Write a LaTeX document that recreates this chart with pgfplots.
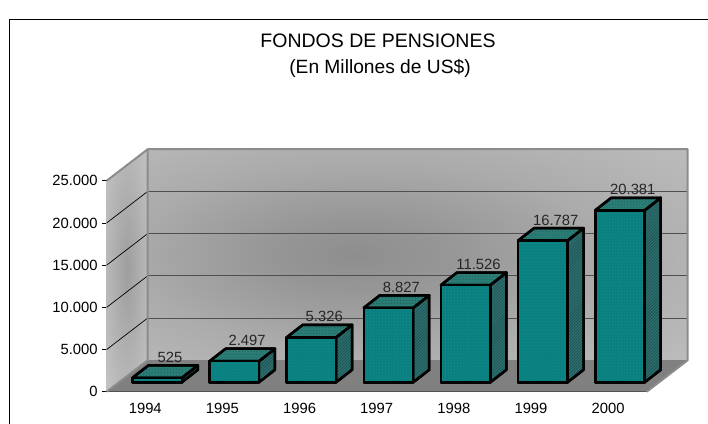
\documentclass[border=0pt]{standalone}
\usepackage{pgfplots}
\pgfplotsset{compat=1.18}
\usepackage{fontspec}
\setmainfont{Liberation Sans}
\usetikzlibrary{patterns}
\definecolor{wallL}{HTML}{C2C2C2}
\definecolor{wallD}{HTML}{8E8E8E}
\definecolor{wallM}{HTML}{ABABAB}
\definecolor{floorG}{HTML}{808080}
\definecolor{wallLine}{HTML}{8C8C8C}
\definecolor{gridG}{HTML}{4F4F4F}
\definecolor{barFront}{HTML}{0A8080}
\definecolor{barFrontP}{HTML}{1A9292}
\definecolor{barSide}{HTML}{2E6E6E}
\definecolor{barSideP}{HTML}{174C4C}
\definecolor{barTop}{HTML}{2A7C74}
\definecolor{barTopP}{HTML}{1A5F5A}
\pgfdeclareradialshading{backwall}{\pgfpoint{-6bp}{0bp}}{color(0bp)=(wallD); color(8bp)=(wallD!85!wallL); color(22bp)=(wallM); color(44bp)=(wallL); color(100bp)=(wallL)}
\pgfdeclareradialshading{sidewall}{\pgfpoint{0bp}{0bp}}{color(0bp)=(wallD!70!wallL); color(12bp)=(wallM); color(34bp)=(wallL); color(100bp)=(wallL)}
% one category: index, value
\newcommand{\threedbar}[2]{%
  \edef\tmpa{\noexpand\addplot[draw=black,line width=2.5bp,line join=round,fill=barSide,postaction={pattern=north east lines,pattern color=barSideP}] coordinates {
    (\fpeval{#1+0.973},\fpeval{1114})
    (\fpeval{#1+1.181},\fpeval{1114+1480})
    (\fpeval{#1+1.181},\fpeval{1114+1480+#2})
    (\fpeval{#1+0.973},\fpeval{1114+#2}) } --cycle;
  \noexpand\addplot[draw=black,line width=2.5bp,line join=round,fill=barTop,postaction={pattern=dots,pattern color=barTopP}] coordinates {
    (\fpeval{#1+0.333},\fpeval{1114+#2})
    (\fpeval{#1+0.973},\fpeval{1114+#2})
    (\fpeval{#1+1.181},\fpeval{1114+1480+#2})
    (\fpeval{#1+0.541},\fpeval{1114+1480+#2}) } --cycle;
  \noexpand\addplot[draw=black,line width=2.5bp,line join=round,fill=barFront,postaction={pattern=dots,pattern color=barFrontP}] coordinates {
    (\fpeval{#1+0.333},\fpeval{1114})
    (\fpeval{#1+0.973},\fpeval{1114})
    (\fpeval{#1+0.973},\fpeval{1114+#2})
    (\fpeval{#1+0.333},\fpeval{1114+#2}) } --cycle;}%
  \tmpa}
\begin{document}
\begin{tikzpicture}[x=1bp,y=1bp]
\path[use as bounding box,fill=white] (0,0) rectangle (708,-423);
\begin{scope}
\clip (0,0) rectangle (708,-423);
\draw[black,line width=1bp] (9.5,-423.5) -- (9.5,-19) -- (708.5,-19);
\end{scope}
\node[font=\fontsize{19.5bp}{23bp}\selectfont] at (378,-40.5) {FONDOS DE PENSIONES};
\node[font=\fontsize{19.2bp}{23bp}\selectfont] at (380,-68.5) {(En Millones de US\$)};
\begin{axis}[
  at={(106.7bp,-391.7bp)},anchor=south west,
  scale only axis,width=540bp,height=211bp,
  xmin=0,xmax=7,ymin=0,ymax=25000,clip=false,
  axis lines=left,axis line style={-,black,line width=0.9bp},
  xtick={0.5,1.5,2.5,3.5,4.5,5.5,6.5},
  xticklabels={1994,1995,1996,1997,1998,1999,2000},
  x tick style={draw=none},
  extra x ticks={0,1,2,3,4,5,6,7},extra x tick labels={},
  extra x tick style={tick style={draw=black,line width=0.7bp}},
  ytick={0,5000,10000,15000,20000,25000},
  y tick style={draw=black,line width=0.7bp},
  tick align=outside,major tick length=4.5bp,
  scaled y ticks=false,
  tick label style={font=\fontsize{14.8bp}{17bp}\selectfont},
  xticklabel style={yshift=-3.5bp},
  yticklabel style={xshift=-1bp},
  /pgf/number format/.cd,1000 sep={.},assume math mode=true,
]
% walls and floor
\path[shading=backwall] (axis cs:0.5315,3732) rectangle (axis cs:7.5315,28732);
\path[shading=sidewall] (axis cs:0,0) -- (axis cs:0.5315,3732) -- (axis cs:0.5315,28732) -- (axis cs:0,25000) -- cycle;
\fill[floorG] (axis cs:0,0) -- (axis cs:0.5315,3732) -- (axis cs:7.5315,3732) -- (axis cs:7,0) -- cycle;
\pgfplotsinvokeforeach{8732,13732,18732,23732}{
  \draw[gridG,line width=1bp] (axis cs:0.5315,#1) -- (axis cs:7.5315,#1);
}
\pgfplotsinvokeforeach{5000,10000,15000,20000}{
  \edef\tmp{\noexpand\draw[black,line width=0.7bp] (axis cs:0,#1) -- (axis cs:0.5315,\fpeval{#1+3732});}\tmp
}
\draw[wallLine,line width=2bp,line join=round] (axis cs:0,0) -- (axis cs:0.5315,3732) -- (axis cs:0.5315,28732) -- (axis cs:7.5315,28732) -- (axis cs:7.5315,3732) -- (axis cs:7,0);
\draw[wallLine,line width=2bp] (axis cs:0,25000) -- (axis cs:0.5315,28732);
\threedbar{0}{525}
\threedbar{1}{2497}
\threedbar{2}{5326}
\threedbar{3}{8827}
\threedbar{4}{11526}
\threedbar{5}{16787}
\threedbar{6}{20381}
% value labels
\addplot[draw=none,mark=none,nodes near coords,point meta=y,
  every node near coord/.style={font=\fontsize{14.8bp}{17bp}\selectfont,anchor=center,text=black!85,yshift=30bp,inner sep=0pt}]
  coordinates {(0.82,525) (1.82,2497) (2.82,5326) (3.82,8827) (4.82,11526) (5.82,16787) (6.82,20381)};
\end{axis}
\end{tikzpicture}
\end{document}
